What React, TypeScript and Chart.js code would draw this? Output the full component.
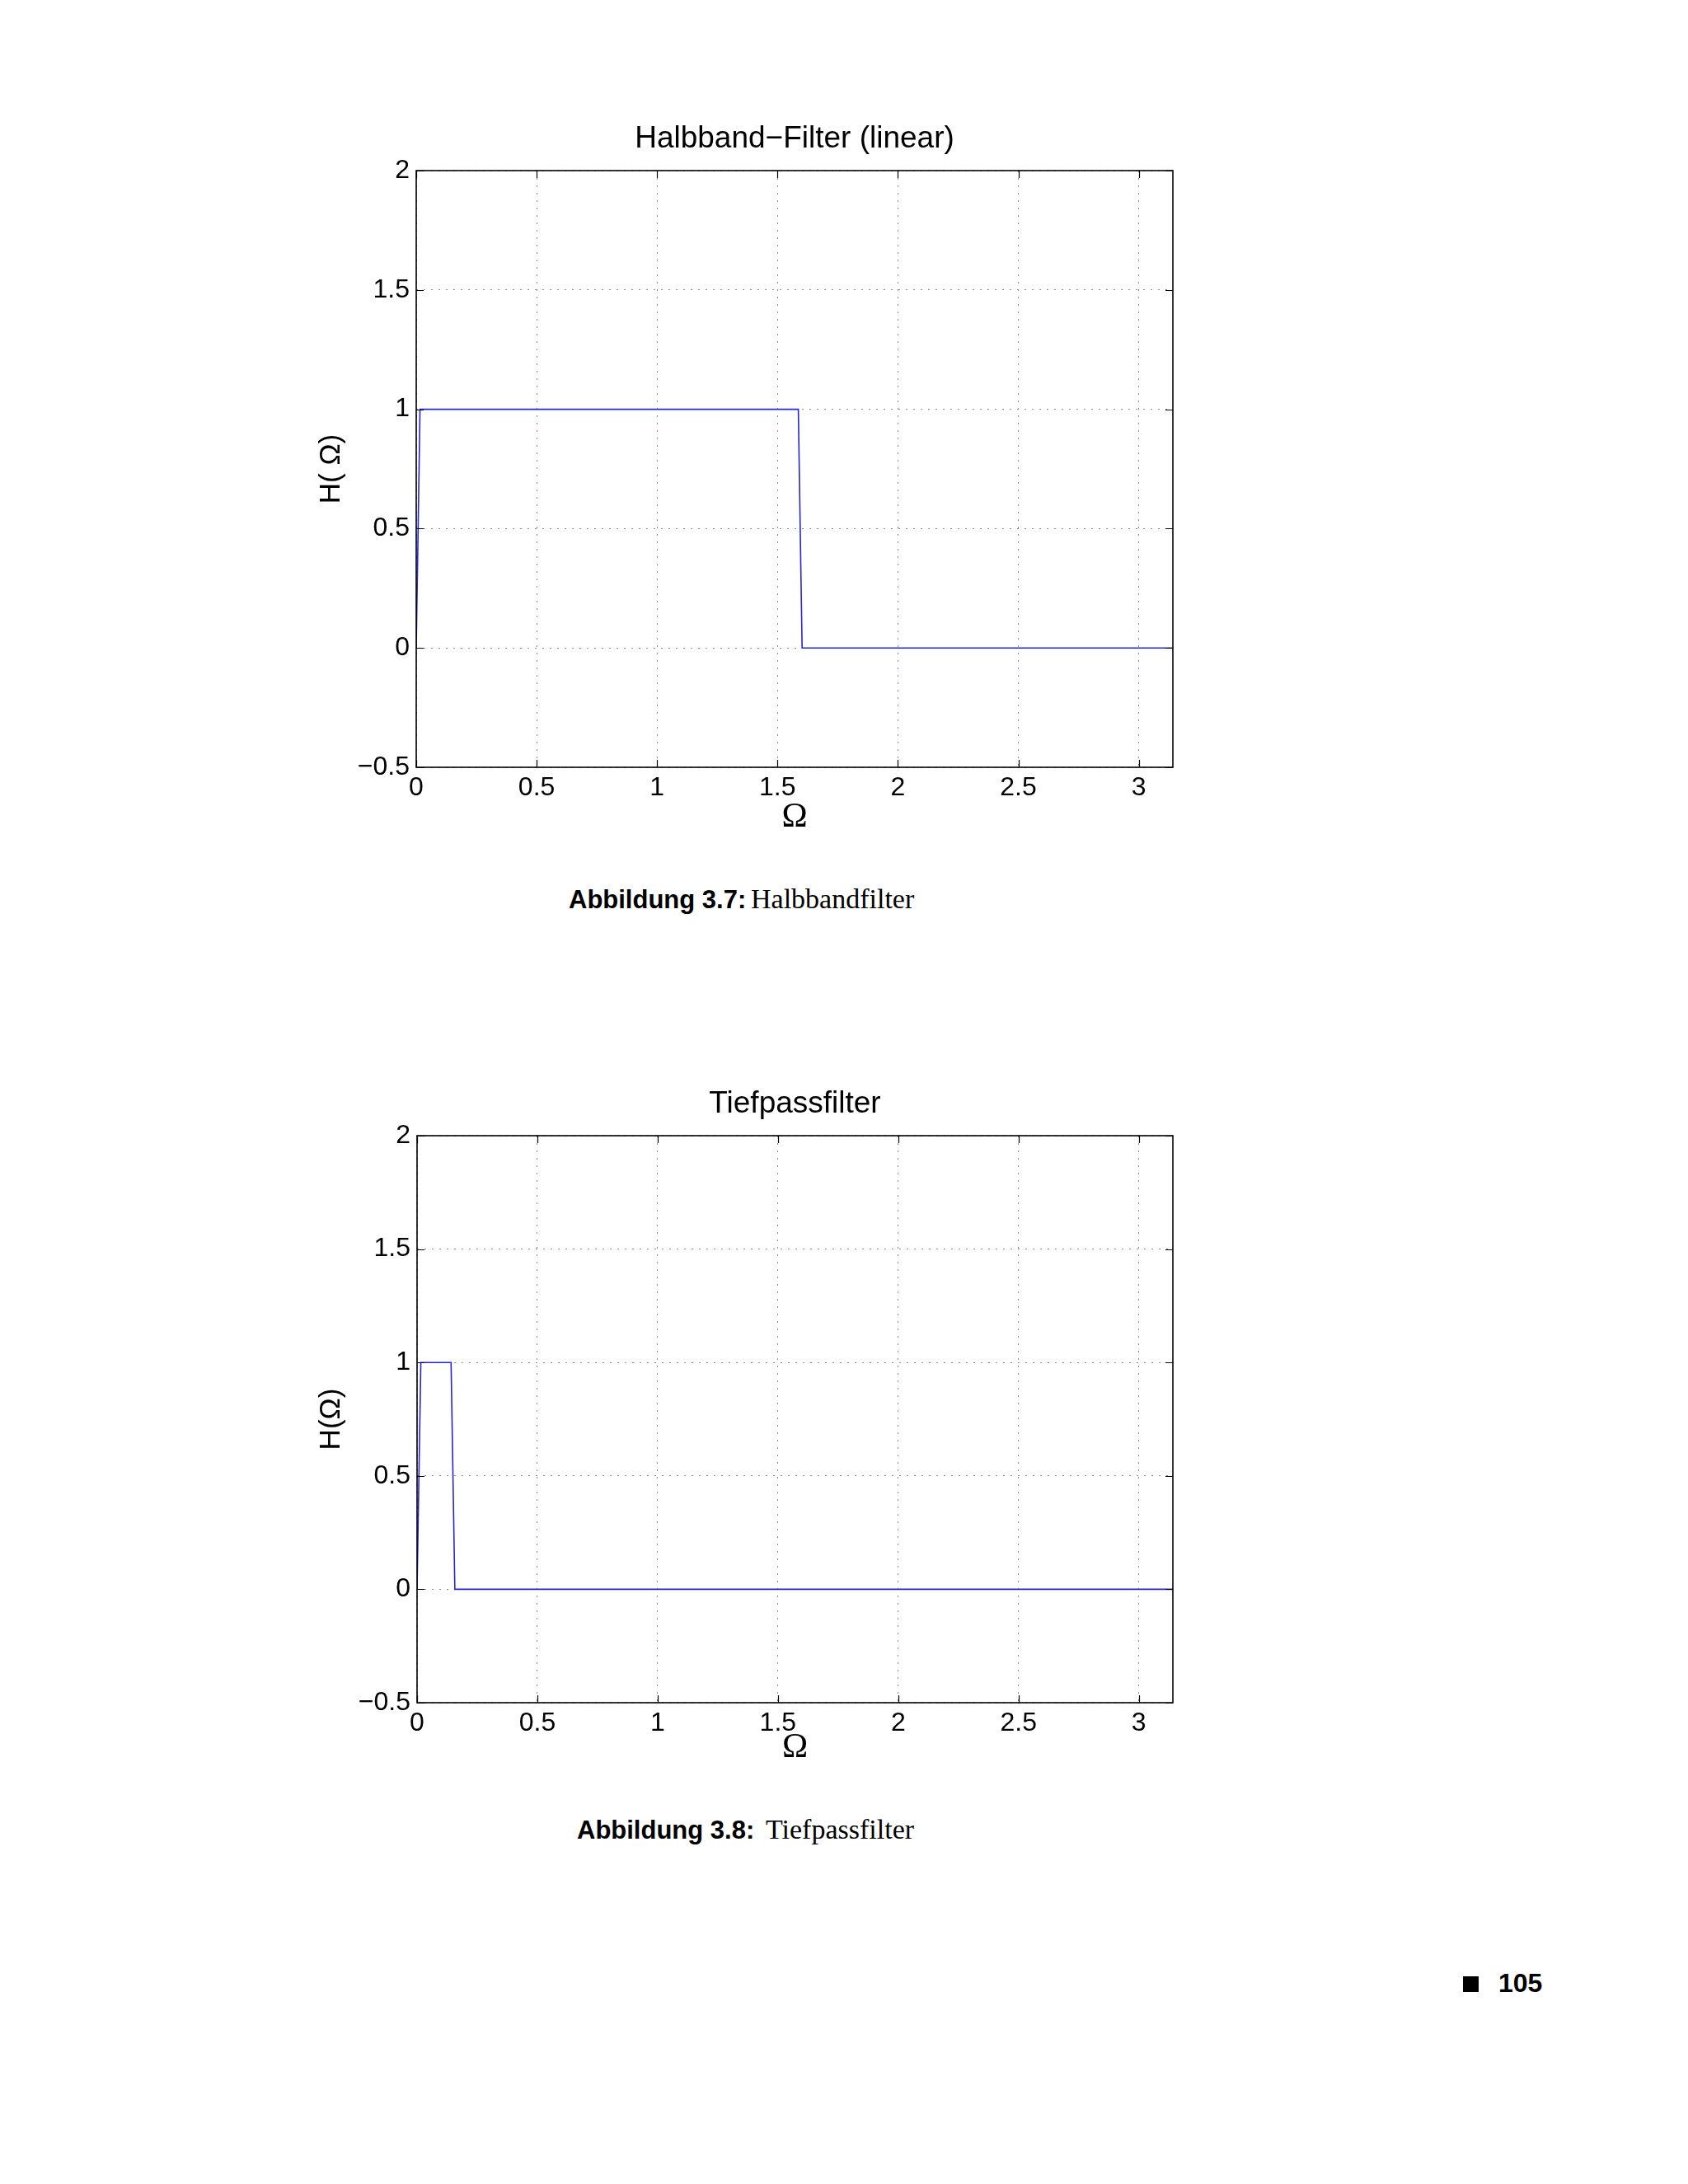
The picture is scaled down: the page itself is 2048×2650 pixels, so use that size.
import React, { useEffect, useRef } from 'react';
import { Chart, registerables } from 'chart.js';

Chart.register(...registerables);

// ---- data ----
const halfbandOmega = [0, 0.0157, 1.5865, 1.6022, 3.1416];
const halfbandH = [0, 1, 1, 0, 0];
const lowpassOmega = [0, 0.0157, 0.1414, 0.1571, 3.1416];
const lowpassH = [0, 1, 1, 0, 0];
const xTickValues = [0, 0.5, 1, 1.5, 2, 2.5, 3];
const yTickValues = [-0.5, 0, 0.5, 1, 1.5, 2];
const xAxisMin = 0;
const xAxisMax = 3.1416;
const yAxisMin = -0.5;
const yAxisMax = 2;

const SANS = "'Liberation Sans', Arial, Helvetica, sans-serif";
const SERIF = "'Liberation Serif', 'Times New Roman', serif";
const TICK_LEN = 9;

const fmt = (v: number) => (v < 0 ? '\u2212' + String(Math.abs(v)) : String(v));

const frameTicks = {
  id: 'frameTicks',
  afterDatasetsDraw(chart: any) {
    const { ctx, chartArea: a, scales } = chart;
    const x = scales.x;
    const y = scales.y;
    ctx.save();
    ctx.strokeStyle = '#000';
    ctx.lineWidth = 1.2;
    ctx.beginPath();
    xTickValues.forEach((v) => {
      const px = Math.round(x.getPixelForValue(v)) + 0.5;
      ctx.moveTo(px, a.bottom);
      ctx.lineTo(px, a.bottom - TICK_LEN);
      ctx.moveTo(px, a.top);
      ctx.lineTo(px, a.top + TICK_LEN);
    });
    yTickValues.forEach((v) => {
      const py = Math.round(y.getPixelForValue(v)) + 0.5;
      ctx.moveTo(a.left, py);
      ctx.lineTo(a.left + TICK_LEN, py);
      ctx.moveTo(a.right, py);
      ctx.lineTo(a.right - TICK_LEN, py);
    });
    ctx.stroke();
    ctx.lineWidth = 1.6;
    ctx.strokeRect(a.left, a.top, a.right - a.left, a.bottom - a.top);
    ctx.restore();
  },
};

type PlotSpec = {
  title: string;
  yLabel: string;
  xs: number[];
  ys: number[];
  left: number;
  top: number;
  width: number;
  height: number;
  titlePadTop: number;
  titlePadBottom: number;
  yTitlePad: number;
  xTitlePad: number;
};

function Plot({ spec }: { spec: PlotSpec }) {
  const ref = useRef<HTMLCanvasElement | null>(null);
  useEffect(() => {
    if (!ref.current) return;
    const points = spec.xs.map((xv, i) => ({ x: xv, y: spec.ys[i] }));
    const chart = new Chart(ref.current, {
      type: 'line',
      data: {
        datasets: [
          {
            data: points,
            borderColor: '#2424dc',
            borderWidth: 1.6,
            pointRadius: 0,
            tension: 0,
            fill: false,
          },
        ],
      },
      plugins: [frameTicks],
      options: {
        animation: false,
        responsive: false,
        devicePixelRatio: 1,
        layout: { padding: { left: 0, right: 27, top: 0, bottom: 0 } },
        plugins: {
          legend: { display: false },
          tooltip: { enabled: false },
          title: {
            display: true,
            text: spec.title,
            fullSize: false,
            color: '#000',
            font: { family: SANS, size: 37, weight: 'normal', lineHeight: 1.2 },
            padding: { top: spec.titlePadTop, bottom: spec.titlePadBottom },
          },
        },
        scales: {
          x: {
            type: 'linear',
            min: xAxisMin,
            max: xAxisMax,
            afterBuildTicks: (scale: any) => {
              scale.ticks = xTickValues.map((v) => ({ value: v }));
            },
            afterFit: (scale: any) => {
              scale.height = 89;
            },
            ticks: {
              autoSkip: false,
              maxRotation: 0,
              padding: 6,
              color: '#000',
              font: { family: SANS, size: 32, lineHeight: 1.2 },
              callback: (v: any) => fmt(Number(v)),
            },
            grid: { drawTicks: false, color: '#8a8a8a', lineWidth: 1 },
            border: { display: false, dash: [2, 7] },
            title: {
              display: true,
              text: '\u03A9',
              color: '#000',
              font: { family: SERIF, size: 42, lineHeight: 1.2 },
              padding: { top: 0, bottom: spec.xTitlePad },
            },
          },
          y: {
            type: 'linear',
            min: yAxisMin,
            max: yAxisMax,
            afterBuildTicks: (scale: any) => {
              scale.ticks = yTickValues.map((v) => ({ value: v }));
            },
            afterFit: (scale: any) => {
              scale.width = 165;
            },
            ticks: {
              autoSkip: false,
              padding: 8,
              color: '#000',
              font: { family: SANS, size: 32, lineHeight: 1.2 },
              callback: (v: any) => fmt(Number(v)),
            },
            grid: { drawTicks: false, color: '#8a8a8a', lineWidth: 1 },
            border: { display: false, dash: [2, 7] },
            title: {
              display: true,
              text: spec.yLabel,
              color: '#000',
              font: { family: SANS, size: 35, lineHeight: 1.2 },
              padding: { top: spec.yTitlePad, bottom: 0 },
            },
          },
        },
      } as any,
    });
    return () => chart.destroy();
  }, [spec]);
  return (
    <canvas
      ref={ref}
      width={spec.width}
      height={spec.height}
      style={{
        position: 'absolute',
        left: spec.left,
        top: spec.top,
        width: spec.width,
        height: spec.height,
      }}
    />
  );
}

const topPlot: PlotSpec = {
  title: 'Halbband\u2212Filter (linear)',
  yLabel: 'H( \u03A9)',
  xs: halfbandOmega,
  ys: halfbandH,
  left: 340,
  top: 120,
  width: 1110,
  height: 900,
  titlePadTop: 26.8,
  titlePadBottom: 15.8,
  yTitlePad: 41,
  xTitlePad: 3,
};

const bottomPlot: PlotSpec = {
  title: 'Tiefpassfilter',
  yLabel: 'H(\u03A9)',
  xs: lowpassOmega,
  ys: lowpassH,
  left: 341,
  top: 1290,
  width: 1109,
  height: 865,
  titlePadTop: 27.8,
  titlePadBottom: 15.8,
  yTitlePad: 40,
  xTitlePad: 9,
};

const textStyle = (left: number, top: number, family: string, size: number, weight: string) => ({
  position: 'absolute' as const,
  left,
  top,
  fontFamily: family,
  fontSize: size,
  fontWeight: weight as any,
  lineHeight: size + 'px',
  whiteSpace: 'nowrap' as const,
  color: '#000',
  margin: 0,
});

export default function App() {
  return (
    <div
      style={{
        position: 'absolute',
        left: 0,
        top: 0,
        width: 2048,
        height: 2650,
        background: '#ffffff',
        overflow: 'hidden',
      }}
    >
      <Plot spec={topPlot} />
      <Plot spec={bottomPlot} />
      <div style={textStyle(690, 1076, SANS, 31, 'bold')}>Abbildung 3.7:</div>
      <div style={textStyle(911, 1073.5, SERIF, 34, 'normal')}>Halbbandfilter</div>
      <div style={textStyle(700, 2205, SANS, 31, 'bold')}>Abbildung 3.8:</div>
      <div style={textStyle(929, 2202.5, SERIF, 34, 'normal')}>Tiefpassfilter</div>
      <div
        style={{
          position: 'absolute',
          left: 1775,
          top: 2398,
          width: 19,
          height: 19,
          background: '#000',
        }}
      />
      <div style={textStyle(1818, 2390, SANS, 32, 'bold')}>105</div>
    </div>
  );
}
